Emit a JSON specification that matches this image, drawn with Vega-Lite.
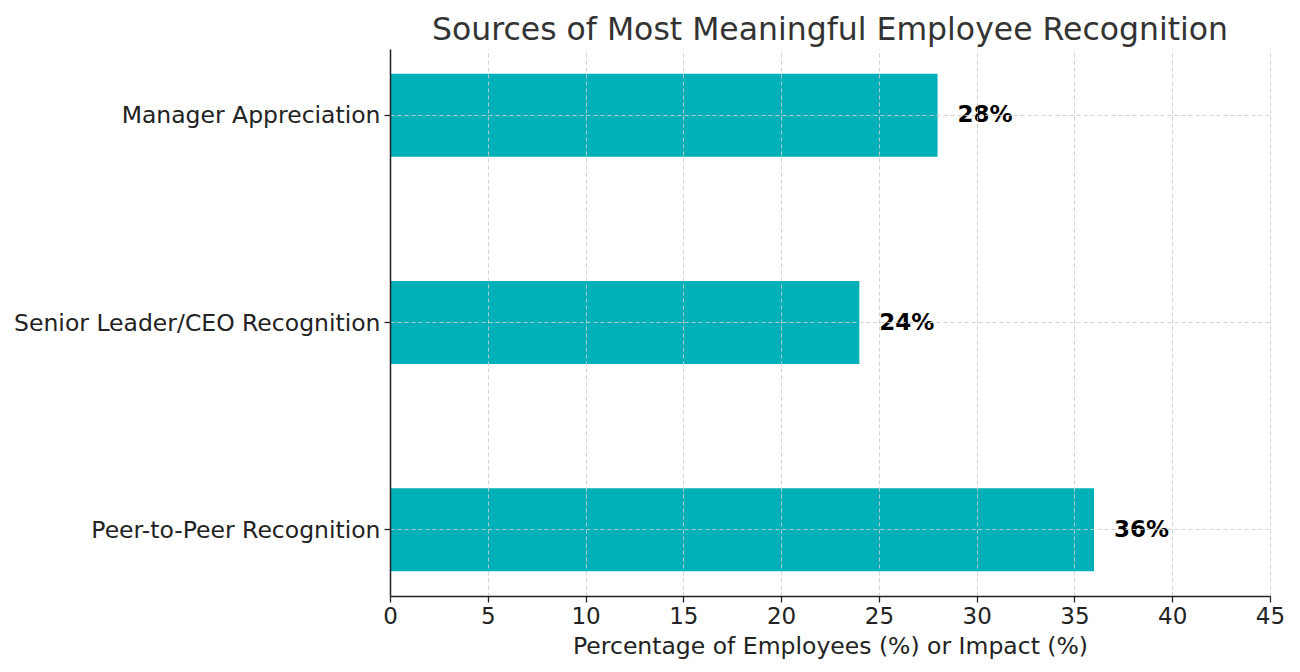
{
  "$schema": "https://vega.github.io/schema/vega-lite/v6.json",
  "width": 880,
  "height": 547,
  "autosize": {"type": "none"},
  "padding": {"left": 390, "top": 49, "right": 30, "bottom": 76},
  "background": "white",
  "config": {
    "view": {"stroke": null},
    "font": "DejaVu Sans"
  },
  "title": {
    "text": "Sources of Most Meaningful Employee Recognition",
    "fontSize": 31.5,
    "fontWeight": "normal",
    "color": "#333333",
    "font": "DejaVu Sans",
    "anchor": "middle",
    "offset": 3
  },
  "data": {
    "values": [
      {"source": "Manager Appreciation", "pct": 28},
      {"source": "Senior Leader/CEO Recognition", "pct": 24},
      {"source": "Peer-to-Peer Recognition", "pct": 36}
    ]
  },
  "encoding": {
    "y": {
      "field": "source",
      "type": "nominal",
      "sort": null,
      "scale": {"paddingInner": 0.6, "paddingOuter": 0.12},
      "axis": {
        "title": null,
        "labelFontSize": 23.5,
        "labelLimit": 500,
        "labelColor": "#222222",
        "labelPadding": 4,
        "labelOffset": 1,
        "domainColor": "#222222",
        "domainWidth": 1.5,
        "tickColor": "#222222",
        "tickSize": 6,
        "tickWidth": 1.3,
        "bandPosition": 0.5,
        "grid": true,
        "gridColor": "#cccccc",
        "gridDash": [4, 3],
        "gridWidth": 0.9,
        "zindex": 1
      }
    }
  },
  "layer": [
    {
      "mark": {"type": "bar", "color": "#00B0B9"},
      "encoding": {
        "x": {
          "field": "pct",
          "type": "quantitative",
          "scale": {"domain": [0, 45], "nice": false},
          "axis": {
            "title": "Percentage of Employees (%) or Impact (%)",
            "titleFontSize": 23.5,
            "titleFontWeight": "normal",
            "titleColor": "#222222",
            "titlePadding": 6,
            "values": [0, 5, 10, 15, 20, 25, 30, 35, 40, 45],
            "labelFontSize": 23,
            "labelFlush": false,
            "labelOverlap": false,
            "labelColor": "#222222",
            "labelPadding": 3,
            "domainColor": "#222222",
            "domainWidth": 1.5,
            "tickColor": "#222222",
            "tickSize": 6,
            "tickWidth": 1.3,
            "grid": true,
            "gridColor": "#cccccc",
            "gridDash": [4, 3],
            "gridWidth": 0.9,
            "zindex": 1
          }
        }
      }
    },
    {
      "mark": {
        "type": "text",
        "align": "left",
        "baseline": "middle",
        "dx": 20,
        "fontSize": 23,
        "fontWeight": "bold",
        "color": "black"
      },
      "encoding": {
        "x": {"field": "pct", "type": "quantitative"},
        "text": {"field": "label", "type": "nominal"}
      },
      "transform": [{"calculate": "datum.pct + '%'", "as": "label"}]
    }
  ]
}
